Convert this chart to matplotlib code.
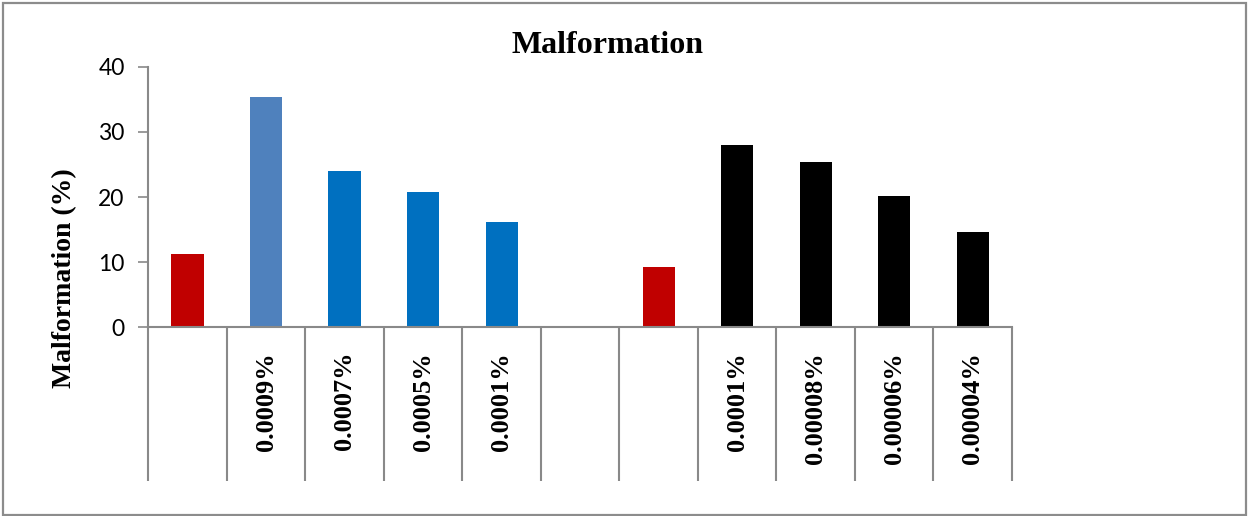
import matplotlib.pyplot as plt
from matplotlib.patches import Rectangle

# malformation rate per treatment slot (slot 5 is an empty spacer)
categories = ["", "0.0009%", "0.0007%", "0.0005%", "0.0001%", "",
              "", "0.0001%", "0.00008%", "0.00006%", "0.00004%"]
malformation = [11.3, 35.4, 24.0, 20.7, 16.1, None,
                9.3, 28.0, 25.4, 20.1, 14.7]
bar_colors = ["#C00000", "#4F81BD", "#0070C0", "#0070C0", "#0070C0", None,
              "#C00000", "#000000", "#000000", "#000000", "#000000"]
y_ticks = [0, 10, 20, 30, 40]

GRID = "#898989"
SERIF = "Liberation Serif"

fig = plt.figure(figsize=(12.48, 5.16), dpi=100)
ax = fig.add_axes([0.1188, 0.3657, 0.6921, 0.505])

for i, (val, col) in enumerate(zip(malformation, bar_colors)):
    if val is None:
        continue
    ax.bar(i, val, width=0.41, color=col, zorder=2)

ax.set_xlim(-0.5, len(categories) - 0.5)
ax.set_ylim(0, 40)
ax.set_yticks(y_ticks)
ax.tick_params(axis="y", length=7, width=1.2, color=GRID, pad=10,
               labelsize=16.5)
for lbl in ax.get_yticklabels():
    lbl.set_family("Lato")
ax.set_xticks([])

for side in ("top", "right"):
    ax.spines[side].set_visible(False)
ax.spines["left"].set_color(GRID)
ax.spines["left"].set_linewidth(1.5)
ax.spines["bottom"].set_color(GRID)
ax.spines["bottom"].set_linewidth(1.5)

# category box separators below the axis
xt = ax.get_xaxis_transform()
for k in range(len(categories) + 1):
    ax.plot([k - 0.5, k - 0.5], [0, -0.59], transform=xt, color=GRID,
            lw=1.5, clip_on=False, solid_capstyle="butt")

for i, name in enumerate(categories):
    if name:
        ax.text(i, -0.094, name, transform=xt, rotation=90, ha="center",
                va="top", family=SERIF, fontweight="bold", fontsize=19)

fig.text(607 / 1248, 0.8967, "Malformation", ha="center", va="baseline",
         family=SERIF, fontweight="bold", fontsize=23)
fig.text(65 / 1248, 1 - 278 / 516, "Malformation (%)", rotation=90,
         ha="center", va="center", family=SERIF, fontweight="bold",
         fontsize=20)

# outer chart frame
fig.patches.append(Rectangle((2.5 / 1248, 1.5 / 516), 1243.5 / 1248,
                             512 / 516, transform=fig.transFigure,
                             fill=False, edgecolor="#8c8c8c", lw=1.6))

fig.savefig("out.png", dpi=100)
